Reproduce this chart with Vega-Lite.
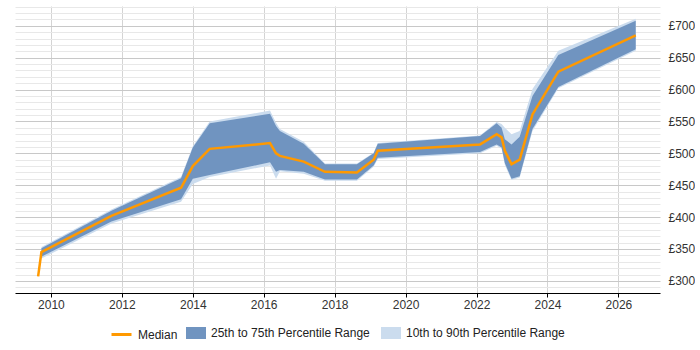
{
  "$schema": "https://vega.github.io/schema/vega-lite/v6.json",
  "width": 645,
  "height": 287,
  "padding": {"left": 15, "top": 0, "right": 0, "bottom": 0},
  "background": "white",
  "config": {
    "view": {"stroke": null},
    "font": "Liberation Sans",
    "axis": {
      "labelFont": "Liberation Sans",
      "labelFontSize": 12,
      "labelColor": "#333333",
      "title": null
    },
    "legend": {
      "orient": "none",
      "direction": "horizontal",
      "title": null,
      "symbolSize": 400,
      "symbolOpacity": 1,
      "labelFont": "Liberation Sans",
      "labelFontSize": 12,
      "labelColor": "#222222",
      "labelOffset": 5,
      "columnPadding": 11
    }
  },
  "data": {
    "values": [
      {"date": "2009-08-22", "median": 307, "p10": null, "p25": null, "p75": null, "p90": null},
      {"date": "2009-09-25", "median": 345, "p10": 335, "p25": 338, "p75": 351, "p90": 353},
      {"date": "2011-09-16", "median": 402, "p10": 390, "p25": 393, "p75": 410, "p90": 412},
      {"date": "2013-09-02", "median": 446, "p10": 424, "p25": 428, "p75": 461, "p90": 463},
      {"date": "2014-01-01", "median": 480, "p10": 452, "p25": 460, "p75": 509, "p90": 511},
      {"date": "2014-06-24", "median": 507, "p10": 463, "p25": 466, "p75": 547, "p90": 550},
      {"date": "2016-03-06", "median": 516, "p10": 481, "p25": 486, "p75": 562, "p90": 567},
      {"date": "2016-05-07", "median": 500, "p10": 460, "p25": 471, "p75": 543, "p90": 548},
      {"date": "2016-06-16", "median": 496, "p10": 472, "p25": 474, "p75": 535, "p90": 538},
      {"date": "2017-02-16", "median": 487, "p10": 468, "p25": 471, "p75": 515, "p90": 518},
      {"date": "2017-09-23", "median": 471, "p10": 457, "p25": 459, "p75": 483, "p90": 484},
      {"date": "2018-08-18", "median": 470, "p10": 457, "p25": 459, "p75": 483, "p90": 484},
      {"date": "2019-02-06", "median": 490, "p10": 479, "p25": 481, "p75": 500, "p90": 501},
      {"date": "2019-03-21", "median": 504, "p10": 491, "p25": 493, "p75": 515, "p90": 516},
      {"date": "2022-02-06", "median": 514, "p10": 500, "p25": 502, "p75": 527, "p90": 528},
      {"date": "2022-07-27", "median": 530, "p10": 512, "p25": 514, "p75": 547, "p90": 549},
      {"date": "2022-09-16", "median": 525, "p10": 507, "p25": 509, "p75": 540, "p90": 546},
      {"date": "2022-10-19", "median": 504, "p10": 482, "p25": 485, "p75": 522, "p90": 540},
      {"date": "2022-12-27", "median": 483, "p10": 458, "p25": 460, "p75": 514, "p90": 530},
      {"date": "2023-03-21", "median": 490, "p10": 462, "p25": 464, "p75": 526, "p90": 535},
      {"date": "2023-07-31", "median": 561, "p10": 535, "p25": 538, "p75": 590, "p90": 601},
      {"date": "2024-04-22", "median": 628, "p10": 602, "p25": 604, "p75": 654, "p90": 661},
      {"date": "2026-06-28", "median": 685, "p10": 661, "p25": 663, "p75": 708, "p90": 711}
    ]
  },
  "encoding": {
    "x": {
      "field": "date",
      "type": "temporal",
      "scale": {
        "type": "utc",
        "domain": [
          {"year": 2008, "month": 12, "date": 27, "utc": true},
          {"year": 2027, "month": 3, "date": 5, "utc": true}
        ]
      },
      "axis": {
        "format": "%Y",
        "tickCount": {"interval": "year", "step": 2},
        "grid": true,
        "gridColor": "#d4d4d4",
        "domainColor": "#000000",
        "tickColor": "#000000",
        "tickSize": 4,
        "labelPadding": 2
      }
    }
  },
  "layer": [
    {
      "mark": {"type": "area", "opacity": 1},
      "encoding": {
        "y": {
          "field": "p10",
          "type": "quantitative",
          "scale": {"domain": [281, 731], "nice": false, "zero": false},
          "axis": {
            "orient": "right",
            "values": [290, 300, 310, 320, 330, 340, 350, 360, 370, 380, 390, 400, 410, 420, 430, 440, 450, 460, 470, 480, 490, 500, 510, 520, 530, 540, 550, 560, 570, 580, 590, 600, 610, 620, 630, 640, 650, 660, 670, 680, 690, 700, 710, 720, 730],
            "tickCount": 100,
            "labelExpr": "datum.value % 50 === 0 ? '£' + datum.value : ''",
            "labelOverlap": false,
            "domain": false,
            "ticks": false,
            "labelPadding": 8,
            "grid": true,
            "gridColor": {"condition": {"test": "datum.value % 50 === 0", "value": "#c8c8c8"}, "value": "#e8e8e8"}
          }
        },
        "y2": {"field": "p90"},
        "fill": {
          "datum": "10th to 90th Percentile Range",
          "type": "nominal",
          "scale": {
            "domain": ["25th to 75th Percentile Range", "10th to 90th Percentile Range"],
            "range": ["#7094c0", "#cbdcee"]
          },
          "legend": {
            "legendX": 171,
            "legendY": 317,
            "symbolType": "M-1,-0.6H1V0.6H-1Z",
            "symbolStrokeWidth": 0
          }
        }
      }
    },
    {
      "mark": {"type": "area", "opacity": 1},
      "encoding": {
        "y": {"field": "p25", "type": "quantitative"},
        "y2": {"field": "p75"},
        "fill": {"datum": "25th to 75th Percentile Range", "type": "nominal"}
      }
    },
    {
      "mark": {"type": "line", "strokeWidth": 2.5},
      "encoding": {
        "y": {"field": "median", "type": "quantitative"},
        "stroke": {
          "datum": "Median",
          "type": "nominal",
          "scale": {"domain": ["Median"], "range": ["#ff9900"]},
          "legend": {
            "legendX": 95,
            "legendY": 317,
            "symbolType": "stroke",
            "symbolStrokeWidth": 3
          }
        }
      }
    }
  ]
}
